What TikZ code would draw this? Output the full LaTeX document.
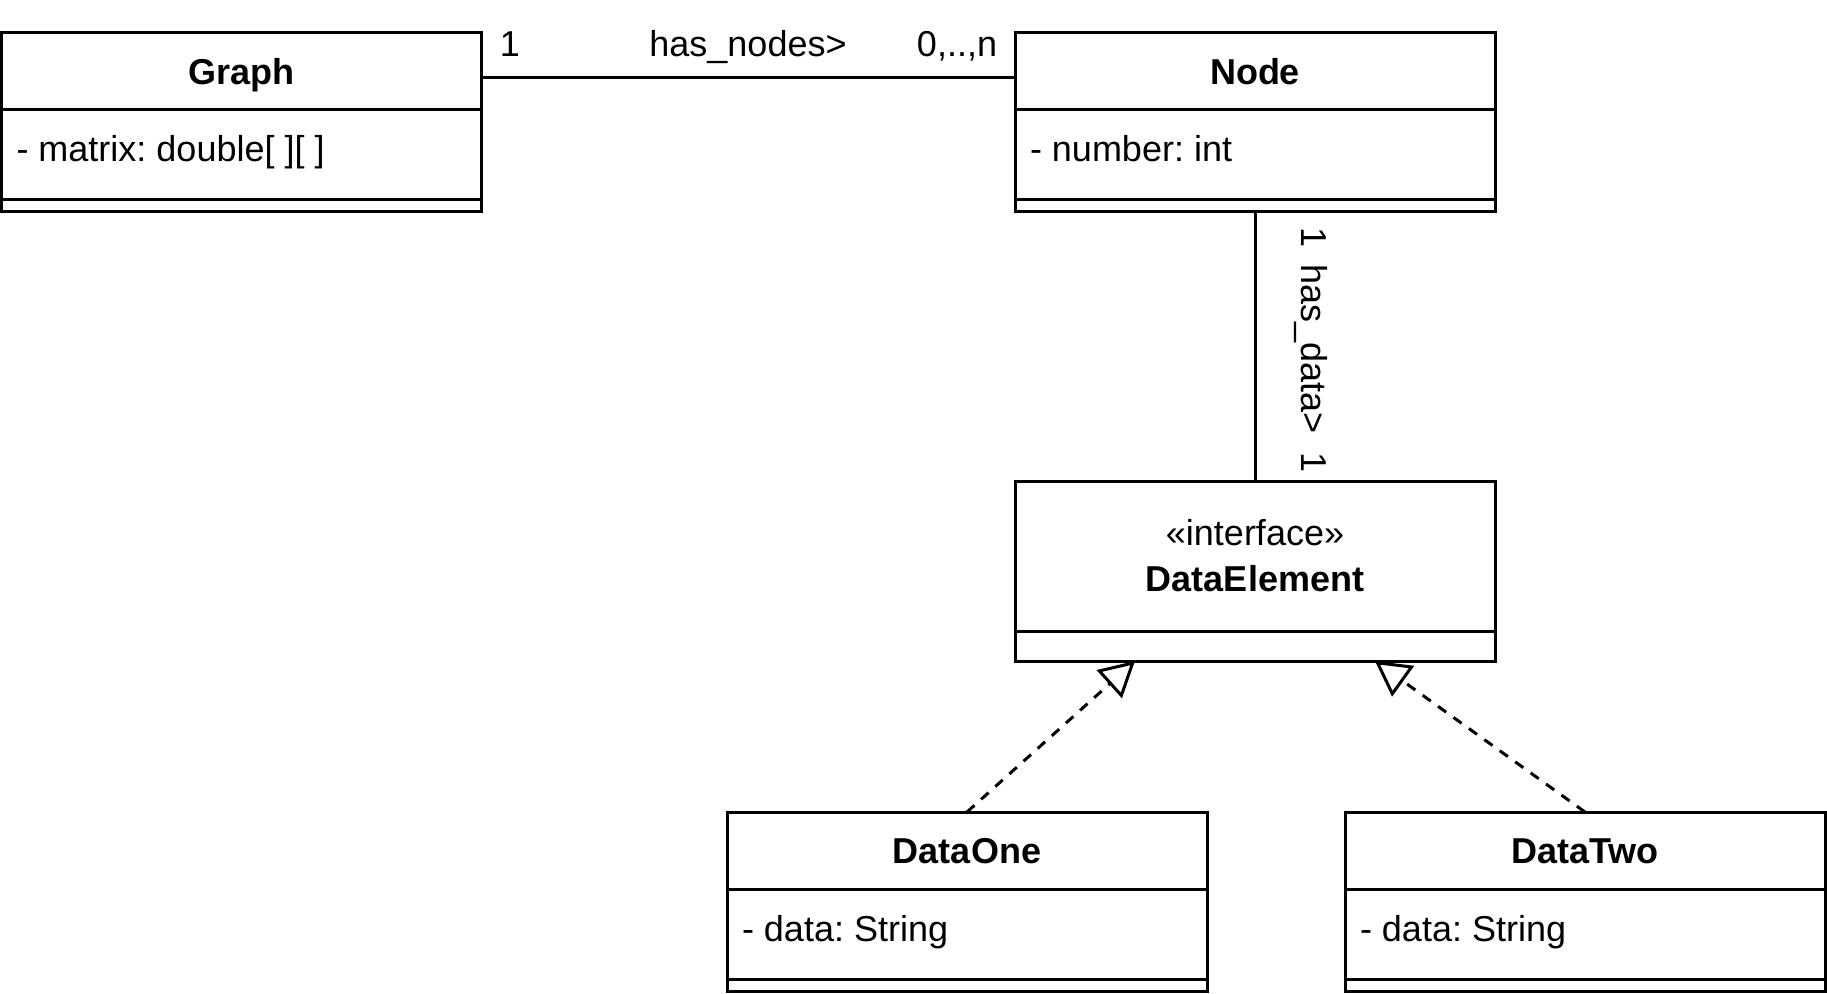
\documentclass[tikz,border=0pt]{standalone}
\usepackage{fontspec}
\setmainfont{Liberation Sans}
\usetikzlibrary{arrows.meta,calc}
\frenchspacing
\begin{document}
\begin{tikzpicture}[x=0.75pt,y=-0.75pt,
  every node/.style={font=\fontsize{27}{31}\selectfont, inner sep=0pt, outer sep=0pt},
  umlbox/.style={draw, line width=2.25pt, minimum width=360pt, minimum height=134.25pt, inner sep=0pt, outer sep=0pt},
  divider/.style={line width=2.25pt},
  title/.style={anchor=base, font=\fontsize{27}{31}\selectfont\bfseries},
  attr/.style={anchor=base west},
  lbl/.style={anchor=base},
  assoc/.style={line width=2.25pt},
  realize/.style={line width=2.25pt, dash pattern=on 7.5pt off 6.75pt, -{Triangle[open,length=26pt,width=28pt]}}
]
\useasboundingbox (0,0) rectangle (1827,993);

% class boxes
\node[umlbox] (graph) at (241.5,121.5) {};
\node[umlbox] (nodecls) at (1255,121.5) {};
\node[umlbox, minimum height=135pt] (delem) at (1255,571) {};
\node[umlbox] (d1) at (967,901.5) {};
\node[umlbox] (d2) at (1585,901.5) {};

% dividers
\draw[divider] (graph.west |- 0,109) -- (graph.east |- 0,109);
\draw[divider] (graph.west |- 0,199) -- (graph.east |- 0,199);
\draw[divider] (nodecls.west |- 0,109) -- (nodecls.east |- 0,109);
\draw[divider] (nodecls.west |- 0,199) -- (nodecls.east |- 0,199);
\draw[divider] (delem.west |- 0,631) -- (delem.east |- 0,631);
\draw[divider] (d1.west |- 0,889) -- (d1.east |- 0,889);
\draw[divider] (d1.west |- 0,979) -- (d1.east |- 0,979);
\draw[divider] (d2.west |- 0,889) -- (d2.east |- 0,889);
\draw[divider] (d2.west |- 0,979) -- (d2.east |- 0,979);

% texts
\node[title] (graphT) at (241.5,84) {Graph};
\node[attr] (graphA) at (16.5,161) {- matrix: double[ ][ ]};
\node[title] (nodeT) at (1255,84) {Node};
\node[attr] (nodeA) at (1030,161) {- number: int};
\node[lbl] (iface) at (1255,545) {«interface»};
\node[title] (delemT) at (1255,591) {DataElement};
\node[title] (d1T) at (967,863) {DataOne};
\node[attr] (d1A) at (742,941) {- data: String};
\node[title] (d2T) at (1585,863) {DataTwo};
\node[attr] (d2A) at (1360,941) {- data: String};

% connectors
\draw[assoc] (graph.east |- 0,77) -- (nodecls.west |- 0,77);
\draw[assoc] (nodecls.south) -- (delem.north);
\draw[realize] (d1.north) -- ($(delem.south west)!0.25!(delem.south east)$);
\draw[realize] (d2.north) -- ($(delem.south west)!0.75!(delem.south east)$);

% connector labels
\node[lbl] (m1) at (510,56) {1};
\node[lbl] (mname) at (748,56) {has\_nodes>};
\node[lbl] (mn) at (957,56) {0,..,n};
\node[lbl, rotate=-90] (v1) at (1301,238) {1};
\node[lbl, rotate=-90] (vname) at (1301,349) {has\_data>};
\node[lbl, rotate=-90] (v2) at (1301,463) {1};
\end{tikzpicture}
\end{document}
